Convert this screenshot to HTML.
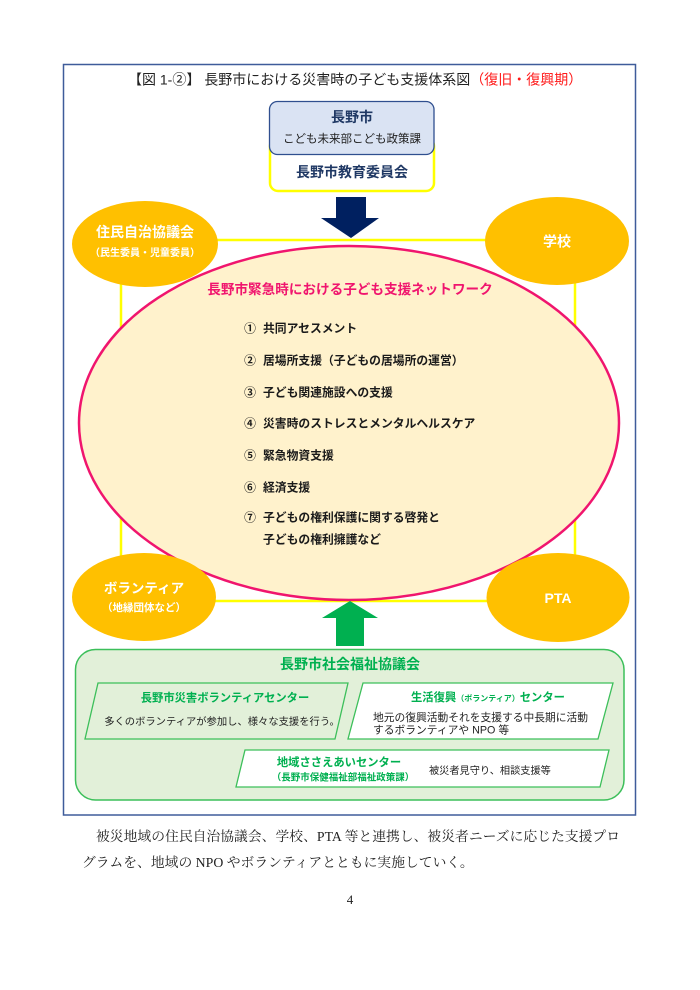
<!DOCTYPE html>
<html lang="ja">
<head>
<meta charset="utf-8">
<style>
  html,body{margin:0;padding:0;background:#fff;}
  body{width:700px;height:990px;overflow:hidden;}
  svg{display:block;}
  .s{font-family:"Liberation Sans","Noto Sans CJK JP",sans-serif;}
  .m{font-family:"Liberation Serif","Noto Serif CJK SC",serif;}
</style>
</head>
<body>
<svg width="700" height="990" viewBox="0 0 700 990" xmlns="http://www.w3.org/2000/svg">
  <rect x="0" y="0" width="700" height="990" fill="#ffffff"/>

  <!-- outer frame -->
  <rect x="63.5" y="64.5" width="572" height="750.5" fill="none" stroke="#3f5c9a" stroke-width="1.5"/>

  <!-- title -->
  <text class="s" x="128" y="84.5" font-size="14" fill="#222">【図 1-②】 長野市における災害時の子ども支援体系図<tspan fill="#ff1a1a">（復旧・復興期）</tspan></text>

  <!-- yellow box (教育委員会) -->
  <rect x="270" y="138" width="164" height="53" rx="8" ry="8" fill="#ffffff" stroke="#ffff00" stroke-width="2.5"/>
  <!-- blue box (長野市) -->
  <rect x="269.5" y="101.5" width="164.5" height="53" rx="8" ry="8" fill="#dae3f3" stroke="#2f4f8f" stroke-width="1.3"/>
  <text class="s" x="352" y="122" font-size="14" font-weight="bold" fill="#1f3864" text-anchor="middle">長野市</text>
  <text class="s" x="352" y="142.5" font-size="11.5" fill="#222" text-anchor="middle">こども未来部こども政策課</text>
  <text class="s" x="352" y="177" font-size="14" font-weight="bold" fill="#1f3864" text-anchor="middle">長野市教育委員会</text>

  <!-- yellow network rectangle -->
  <rect x="121" y="240" width="454" height="361" fill="none" stroke="#ffff00" stroke-width="2.5"/>

  <!-- pink ellipse -->
  <ellipse cx="349" cy="423" rx="270" ry="177" fill="#fff2cc" stroke="#f0156e" stroke-width="2.5"/>

  <!-- navy arrow -->
  <polygon points="336,197 366,197 366,218 379,218 351,238 321,218 336,218" fill="#002060"/>

  <!-- green arrow -->
  <polygon points="350,601 378,618 364,618 364,646 336,646 336,618 322,618" fill="#00b050"/>

  <!-- orange ellipses -->
  <ellipse cx="145" cy="244" rx="73" ry="43" fill="#ffc000"/>
  <text class="s" x="145" y="237" font-size="14" font-weight="bold" fill="#ffffff" text-anchor="middle">住民自治協議会</text>
  <text class="s" x="145" y="256" font-size="10" font-weight="bold" fill="#ffffff" text-anchor="middle">（民生委員・児童委員）</text>

  <ellipse cx="557" cy="241" rx="72" ry="44" fill="#ffc000"/>
  <text class="s" x="557" y="246.5" font-size="14" font-weight="bold" fill="#ffffff" text-anchor="middle">学校</text>

  <ellipse cx="144" cy="597" rx="72" ry="44" fill="#ffc000"/>
  <text class="s" x="144" y="593" font-size="13.5" font-weight="bold" fill="#ffffff" text-anchor="middle">ボランティア</text>
  <text class="s" x="144" y="611" font-size="10.5" font-weight="bold" fill="#ffffff" text-anchor="middle">（地縁団体など）</text>

  <ellipse cx="558" cy="597.5" rx="71.5" ry="44.5" fill="#ffc000"/>
  <text class="s" x="558" y="603" font-size="14" font-weight="bold" fill="#ffffff" text-anchor="middle">PTA</text>

  <!-- network title -->
  <text class="s" x="350" y="294" font-size="13.6" font-weight="bold" fill="#f0156e" text-anchor="middle">長野市緊急時における子ども支援ネットワーク</text>

  <!-- list -->
  <g class="s" font-size="11.8" font-weight="bold" fill="#1a1a1a">
    <text x="250" y="332.5" text-anchor="middle">①</text><text x="263" y="332.5">共同アセスメント</text>
    <text x="250" y="364.5" text-anchor="middle">②</text><text x="263" y="364.5">居場所支援（子どもの居場所の運営）</text>
    <text x="250" y="396.5" text-anchor="middle">③</text><text x="263" y="396.5">子ども関連施設への支援</text>
    <text x="250" y="427.5" text-anchor="middle">④</text><text x="263" y="427.5">災害時のストレスとメンタルヘルスケア</text>
    <text x="250" y="459.5" text-anchor="middle">⑤</text><text x="263" y="459.5">緊急物資支援</text>
    <text x="250" y="491.5" text-anchor="middle">⑥</text><text x="263" y="491.5">経済支援</text>
    <text x="250" y="521.5" text-anchor="middle">⑦</text><text x="263" y="521.5">子どもの権利保護に関する啓発と</text>
    <text x="263" y="543.5">子どもの権利擁護など</text>
  </g>

  <!-- green council box -->
  <rect x="75.5" y="649.5" width="548.5" height="150.5" rx="20" ry="20" fill="#e2f0d9" stroke="#3cbf5a" stroke-width="1.5"/>
  <text class="s" x="350" y="669" font-size="14" font-weight="bold" fill="#00b050" text-anchor="middle">長野市社会福祉協議会</text>

  <!-- parallelogram 1 -->
  <polygon points="98,683 348,683 335,739 85,739" fill="#e2f0d9" stroke="#3cbf5a" stroke-width="1.3"/>
  <text class="s" x="225" y="701.5" font-size="11.3" font-weight="bold" fill="#00b050" text-anchor="middle">長野市災害ボランティアセンター</text>
  <text class="s" x="222" y="725" font-size="10.3" fill="#222" text-anchor="middle">多くのボランティアが参加し、様々な支援を行う。</text>

  <!-- parallelogram 2 -->
  <polygon points="363,683 613,683 598,739 348,739" fill="#ffffff" stroke="#3cbf5a" stroke-width="1.3"/>
  <text class="s" x="411" y="701" font-size="11.3" font-weight="bold" fill="#00b050">生活復興<tspan font-size="8">（ボランティア）</tspan>センター</text>
  <text class="s" x="373" y="721" font-size="10.75" fill="#222">地元の復興活動それを支援する中長期に活動</text>
  <text class="s" x="373" y="733.5" font-size="10.75" fill="#222">するボランティアや NPO 等</text>

  <!-- parallelogram 3 -->
  <polygon points="245,750 609,750 600,787 236,787" fill="#ffffff" stroke="#3cbf5a" stroke-width="1.3"/>
  <text class="s" x="339" y="766" font-size="11.3" font-weight="bold" fill="#00b050" text-anchor="middle">地域ささえあいセンター</text>
  <text class="s" x="343" y="780.5" font-size="9.5" font-weight="bold" fill="#00b050" text-anchor="middle">（長野市保健福祉部福祉政策課）</text>
  <text class="s" x="429" y="774" font-size="10.2" fill="#222">被災者見守り、相談支援等</text>

  <!-- paragraph -->
  <text class="m" x="96" y="841" font-size="13.8" fill="#222" textLength="524" lengthAdjust="spacing">被災地域の住民自治協議会、学校、PTA 等と連携し、被災者ニーズに応じた支援プロ</text>
  <text class="m" x="82" y="867" font-size="13.8" fill="#222">グラムを、地域の NPO やボランティアとともに実施していく。</text>

  <!-- page number -->
  <text class="m" x="350" y="904" font-size="13" fill="#222" text-anchor="middle">4</text>
</svg>
</body>
</html>
